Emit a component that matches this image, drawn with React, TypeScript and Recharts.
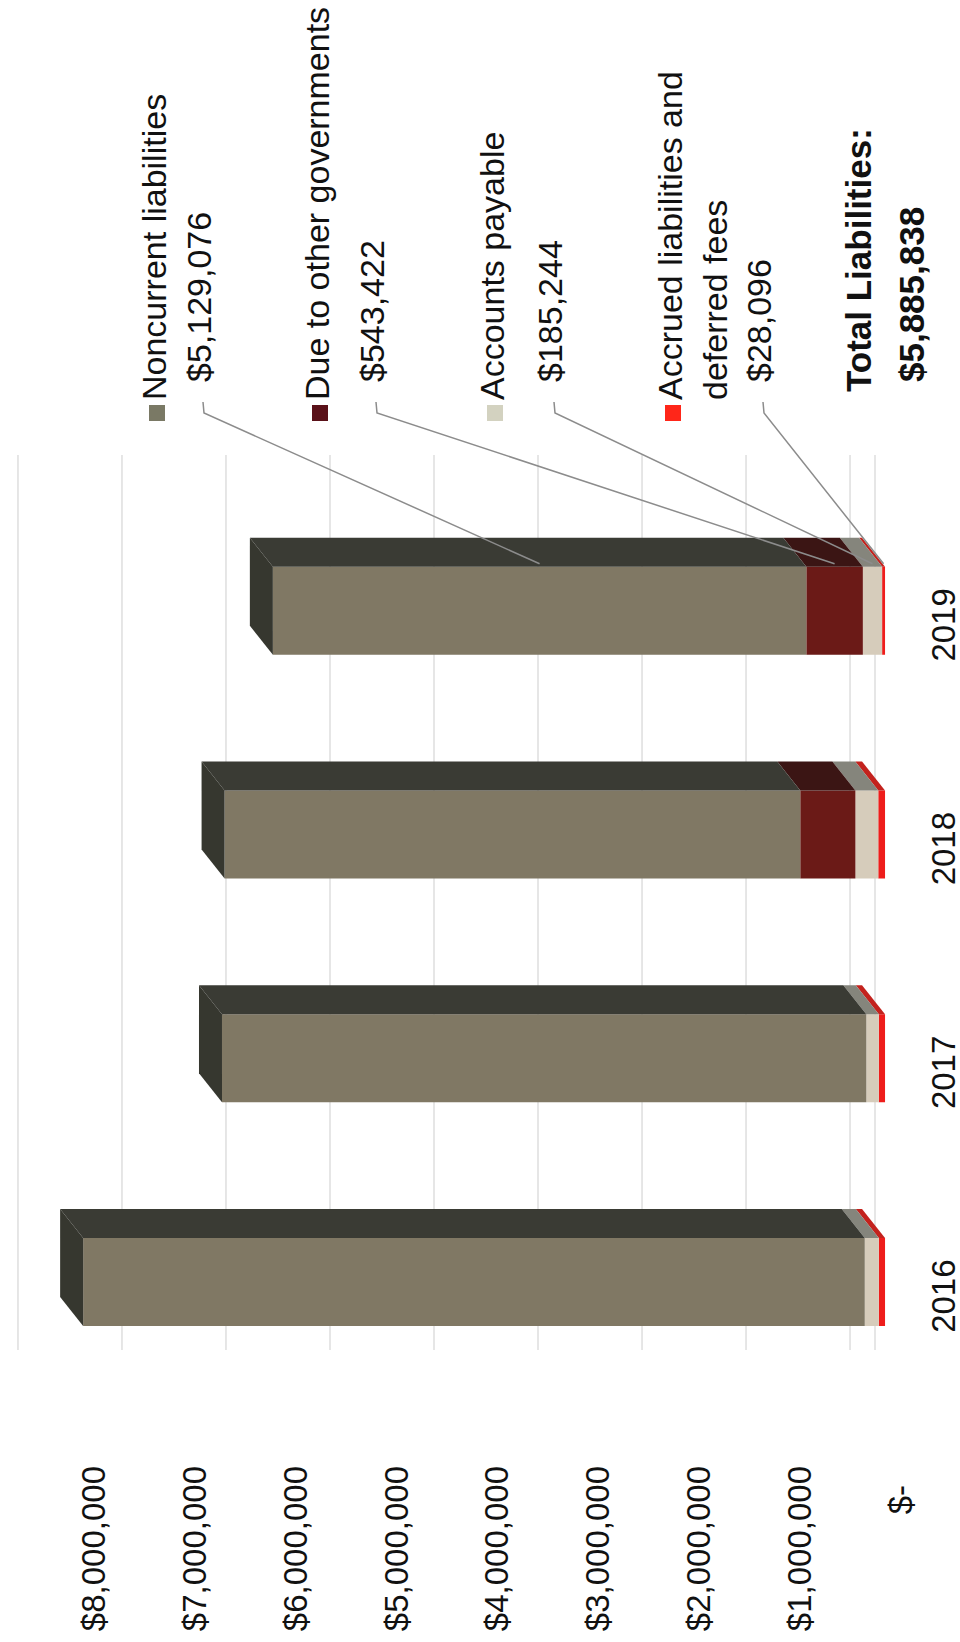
import { BarChart, Bar, XAxis, YAxis, CartesianGrid, LabelList } from "recharts";

const years = ["2016", "2017", "2018", "2019"];
const noncurrentLiabilities = [7515000, 6195000, 5535000, 5129076];
const dueToOtherGovernments = [0, 0, 530000, 543422];
const accountsPayable = [135000, 120000, 220000, 185244];
const accruedLiabilities = [60000, 60000, 65000, 28096];
const valueTicks = [0, 1000000, 2000000, 3000000, 4000000, 5000000, 6000000, 7000000, 8000000];

const data = years.map((year, i) => ({
  year,
  noncurrent: noncurrentLiabilities[i],
  due: dueToOtherGovernments[i],
  payable: accountsPayable[i],
  accrued: accruedLiabilities[i],
}));

const FONT = "'Liberation Sans', Arial, Helvetica, sans-serif";
const W = 1642;
const H = 960;
// 3D look: bar depth and back wall offset
const DEPTH_X = 29;
const DEPTH_Y = 23;
const WALL_X = 44;
const WALL_Y = 35;
// the bar front faces and the perspective axis labels use slightly different scales
const BAR_DOMAIN = [-240000, 8317000];
const LABEL_DOMAIN = [-99000, 8734000];
const ANNOTATED = 3; // 2019

type Series = {
  key: string;
  name: string[];
  front: string;
  side: string;
  swatch: string;
  nameY: number;
  valueY: number;
};

// bottom of the stack first
const series: Series[] = [
  { key: "accrued", name: ["Accrued liabilities and", "deferred fees"], front: "#ee1d1b", side: "#c3221d", swatch: "#ff2619", nameY: 670, valueY: 759 },
  { key: "payable", name: ["Accounts payable"], front: "#d6ccbb", side: "#85857c", swatch: "#d3d2c0", nameY: 492, valueY: 550 },
  { key: "due", name: ["Due to other governments"], front: "#6b1a17", side: "#3b1514", swatch: "#5a1119", nameY: 317, valueY: 372 },
  { key: "noncurrent", name: ["Noncurrent liabilities"], front: "#807864", side: "#3a3b34", swatch: "#7a7965", nameY: 154, valueY: 199 },
];
const TOP_FACE = "#36372f";

const money = (v: number) => "$" + Math.round(v).toLocaleString("en-US");

const Bar3D = (props: any) => {
  const { x, y, width, height, front, side, top } = props;
  if (!height || height <= 0) return null;
  const r = x + width;
  return (
    <g>
      <rect x={x} y={y} width={width} height={height} fill={front} />
      <polygon
        points={`${r},${y} ${r + DEPTH_X},${y - DEPTH_Y} ${r + DEPTH_X},${y + height - DEPTH_Y} ${r},${y + height}`}
        fill={side}
      />
      {top && (
        <polygon
          points={`${x},${y} ${x + DEPTH_X},${y - DEPTH_Y} ${r + DEPTH_X},${y - DEPTH_Y} ${r},${y}`}
          fill={top}
        />
      )}
    </g>
  );
};

const annotation = (s: Series, withTotal: boolean) => (props: any) => {
  if (props.index !== ANNOTATED) return null;
  const vb = props.viewBox ?? props;
  const ex = vb.x + vb.width + 3;
  const ey = vb.y + vb.height / 2;
  const row = data[ANNOTATED] as any;
  const total = noncurrentLiabilities[ANNOTATED] + dueToOtherGovernments[ANNOTATED] + accountsPayable[ANNOTATED] + accruedLiabilities[ANNOTATED];
  return (
    <g>
      <rect x={1221} y={s.nameY - 5} width={16} height={16} fill={s.swatch} />
      {s.name.map((line, i) => (
        <text key={i} x={1242} y={s.nameY + i * 45} dominantBaseline="central" fontSize={34} fill="#111">
          {line}
        </text>
      ))}
      <text x={1260} y={s.valueY} dominantBaseline="central" fontSize={34} fill="#111">
        {money(row[s.key])}
      </text>
      <polyline
        points={`1240,${s.valueY + 4} 1229,${s.valueY + 5} ${ex},${ey}`}
        fill="none"
        stroke="#8c8c8c"
        strokeWidth={1.5}
      />
      {withTotal && (
        <g fontWeight="bold" fontSize={35} fill="#111">
          <text x={1250} y={858} dominantBaseline="central">Total Liabilities:</text>
          <text x={1260} y={911} dominantBaseline="central">{money(total)}</text>
        </g>
      )}
    </g>
  );
};

const YTick = (props: any) => {
  const { x, y, payload } = props;
  const zero = payload.value === 0;
  return (
    <text x={zero ? x - 19 : x} y={y} textAnchor="end" dominantBaseline="central" fontSize={33} fill="#111">
      {zero ? "$-" : money(payload.value)}
    </text>
  );
};

const XTick = (props: any) => {
  const { x, y, payload } = props;
  return (
    <text x={x - 14} y={y + 33} textAnchor="middle" dominantBaseline="central" fontSize={33} fill="#111">
      {payload.value}
    </text>
  );
};

const WallLine = (p: any) => (
  <line
    key={p.key}
    x1={p.x1 + WALL_X}
    x2={p.x2 + WALL_X}
    y1={p.y1 - WALL_Y}
    y2={p.y2 - WALL_Y}
    stroke="#dedede"
    strokeWidth={1.5}
  />
);

export default function App() {
  return (
    <div
      style={{
        position: "absolute",
        left: 0,
        top: 0,
        width: W,
        height: H,
        background: "#fff",
        fontFamily: FONT,
        transform: `translateY(${W}px) rotate(-90deg)`,
        transformOrigin: "0 0",
      }}
    >
      <BarChart width={W} height={H} data={data} margin={{ top: 20, right: 499, bottom: 0, left: 0 }}>
        <CartesianGrid yAxisId="bars" vertical={false} horizontal={(p: any) => <WallLine {...p} />} />
        <XAxis dataKey="year" height={50} axisLine={false} tickLine={false} tickSize={0} tickMargin={0} tick={<XTick />} />
        <YAxis yAxisId="bars" type="number" hide domain={BAR_DOMAIN} ticks={valueTicks} allowDataOverflow />
        <YAxis
          yAxisId="labels"
          type="number"
          domain={LABEL_DOMAIN}
          ticks={valueTicks}
          interval={0}
          allowDataOverflow
          width={248}
          axisLine={false}
          tickLine={false}
          tickSize={0}
          tickMargin={12}
          tick={<YTick />}
        />
        {series.map((s, i) => {
          const isTop = i === series.length - 1;
          return (
            <Bar
              key={s.key}
              dataKey={s.key}
              name={s.name.join(" ")}
              stackId="total"
              yAxisId="bars"
              barSize={88}
              fill={s.front}
              isAnimationActive={false}
              shape={(p: any) => <Bar3D {...p} front={s.front} side={s.side} top={isTop ? TOP_FACE : undefined} />}
            >
              <LabelList dataKey={s.key} content={annotation(s, isTop)} />
            </Bar>
          );
        })}
      </BarChart>
    </div>
  );
}
